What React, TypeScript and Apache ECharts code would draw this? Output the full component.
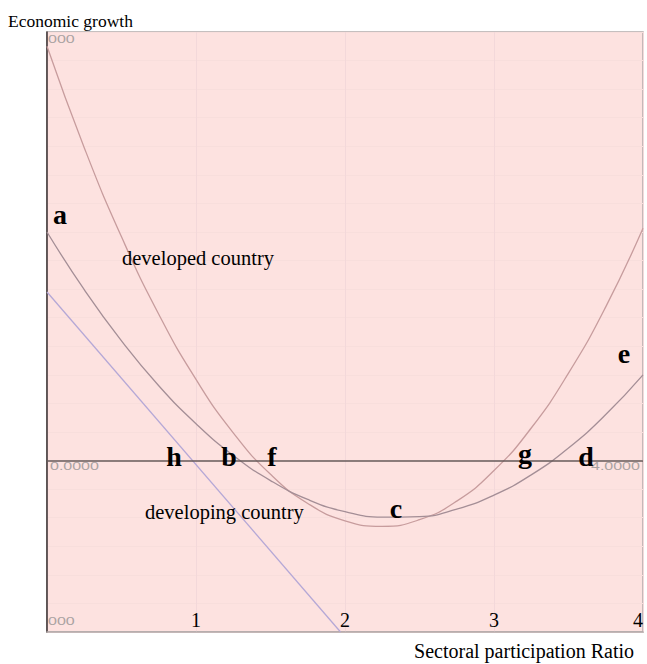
import React, { useEffect, useRef } from "react";
import * as echarts from "echarts";

// x samples (sectoral participation ratio)
const xSamples = [0, 0.25, 0.5, 0.75, 1, 1.25, 1.5, 1.75, 2, 2.25, 2.5, 2.75, 3, 3.25, 3.5, 3.75, 4];
// curve through a-b-c-d-e
const curveA = [8.0, 5.98, 4.19, 2.62, 1.29, 0.18, -0.7, -1.36, -1.79, -1.98, -1.96, -1.7, -1.21, -0.5, 0.44, 1.61, 3.0];
// steeper curve through f-g
const curveB = [14.5, 10.95, 7.83, 5.12, 2.84, 0.97, -0.48, -1.5, -2.11, -2.3, -2.07, -1.42, -0.35, 1.14, 3.06, 5.38, 8.13];
// straight line through h
const lineX = [0, 1.97];
const lineY = [5.9, -6];

const xMin = 0, xMax = 4, xStep = 1;
const yMin = -6, yMax = 15, yStep = 1;

const letterLabels = [
  { t: "a", x: 60, y: 214 },
  { t: "h", x: 174, y: 456 },
  { t: "b", x: 229, y: 456 },
  { t: "f", x: 272, y: 456 },
  { t: "c", x: 396, y: 508 },
  { t: "g", x: 525, y: 453 },
  { t: "d", x: 586, y: 456 },
  { t: "e", x: 624, y: 353 },
];
const greyLabels = [
  { t: "000", x: 48, y: 40 },
  { t: "0.0000", x: 50, y: 467 },
  { t: "000", x: 48, y: 622 },
  { t: "4.0000", x: 591, y: 467 },
];

const SERIF = "'Liberation Serif', 'Times New Roman', serif";

export default function App() {
  const ref = useRef<HTMLDivElement>(null);
  useEffect(() => {
    if (!ref.current) return;
    const chart = echarts.init(ref.current, undefined, { renderer: "svg" });
    const pts = (xs: number[], ys: number[]) => xs.map((x, i) => [x, ys[i]]);
    const graphic: any[] = [];
    letterLabels.forEach((l) =>
      graphic.push({
        type: "text",
        x: l.x,
        y: l.y,
        z: 100,
        silent: true,
        style: { text: l.t, fontFamily: SERIF, fontSize: 28, fontWeight: "bold", fill: "#000", textAlign: "center", textVerticalAlign: "middle" },
      })
    );
    greyLabels.forEach((l) =>
      graphic.push({
        type: "text",
        x: l.x,
        y: l.y,
        z: 100,
        scaleX: 1.6,
        silent: true,
        style: { text: l.t, fontFamily: "'Liberation Sans', Arial, sans-serif", fontSize: 10, fill: "#aaa2a2", textAlign: "left", textVerticalAlign: "middle" },
      })
    );
    graphic.push(
      { type: "text", x: 8, y: 21, z: 100, silent: true, style: { text: "Economic growth", fontFamily: SERIF, fontSize: 17.5, fill: "#000", textAlign: "left", textVerticalAlign: "middle" } },
      { type: "text", x: 634, y: 651, z: 100, silent: true, style: { text: "Sectoral participation Ratio", fontFamily: SERIF, fontSize: 20, fill: "#000", textAlign: "right", textVerticalAlign: "middle" } },
      { type: "text", x: 122, y: 258, z: 100, silent: true, style: { text: "developed country", fontFamily: SERIF, fontSize: 20.5, fill: "#000", textAlign: "left", textVerticalAlign: "middle" } },
      { type: "text", x: 145, y: 512, z: 100, silent: true, style: { text: "developing country", fontFamily: SERIF, fontSize: 20.5, fill: "#000", textAlign: "left", textVerticalAlign: "middle" } }
    );

    chart.setOption({
      animation: false,
      backgroundColor: "#ffffff",
      grid: { left: 47, right: 4, top: 32, bottom: 32, show: true, backgroundColor: "#fde2e0", borderColor: "#b3aaaa", borderWidth: 1.5 },
      xAxis: {
        type: "value",
        min: xMin,
        max: xMax,
        interval: xStep,
        axisLine: { show: true, onZero: false, lineStyle: { color: "#b3aaaa", width: 1.5 } },
        axisTick: { show: false },
        axisLabel: {
          inside: true,
          margin: 2,
          fontFamily: SERIF,
          fontSize: 20,
          color: "#000",
          showMinLabel: false,
          alignMaxLabel: "right",
          formatter: (v: number) => (v === 0 ? "" : String(v)),
        },
        splitLine: { show: true, lineStyle: { color: "#f3d8da", width: 1 } },
      },
      yAxis: {
        type: "value",
        min: yMin,
        max: yMax,
        interval: yStep,
        axisLine: { show: true, onZero: false, lineStyle: { color: "#3a3232", width: 1.5 } },
        axisTick: { show: false },
        axisLabel: { show: false },
        splitLine: { show: true, lineStyle: { color: "#f8dedc", width: 1 } },
      },
      graphic,
      series: [
        {
          type: "line",
          data: pts(xSamples, curveB),
          smooth: true,
          showSymbol: false,
          silent: true,
          lineStyle: { color: "#c79c9d", width: 1.3 },
          markLine: {
            silent: true,
            symbol: "none",
            label: { show: false },
            lineStyle: { color: "#665a5a", width: 1.5, type: "solid" },
            data: [{ yAxis: 0 }],
          },
        },
        {
          type: "line",
          data: pts(xSamples, curveA),
          smooth: true,
          showSymbol: false,
          silent: true,
          lineStyle: { color: "#a48e96", width: 1.3 },
        },
        {
          type: "line",
          data: pts(lineX, lineY),
          showSymbol: false,
          silent: true,
          lineStyle: { color: "#b5a8d6", width: 1.3 },
        },
      ],
    });
    return () => chart.dispose();
  }, []);
  return <div ref={ref} style={{ position: "fixed", left: 0, top: 0, width: 647, height: 664 }} />;
}
